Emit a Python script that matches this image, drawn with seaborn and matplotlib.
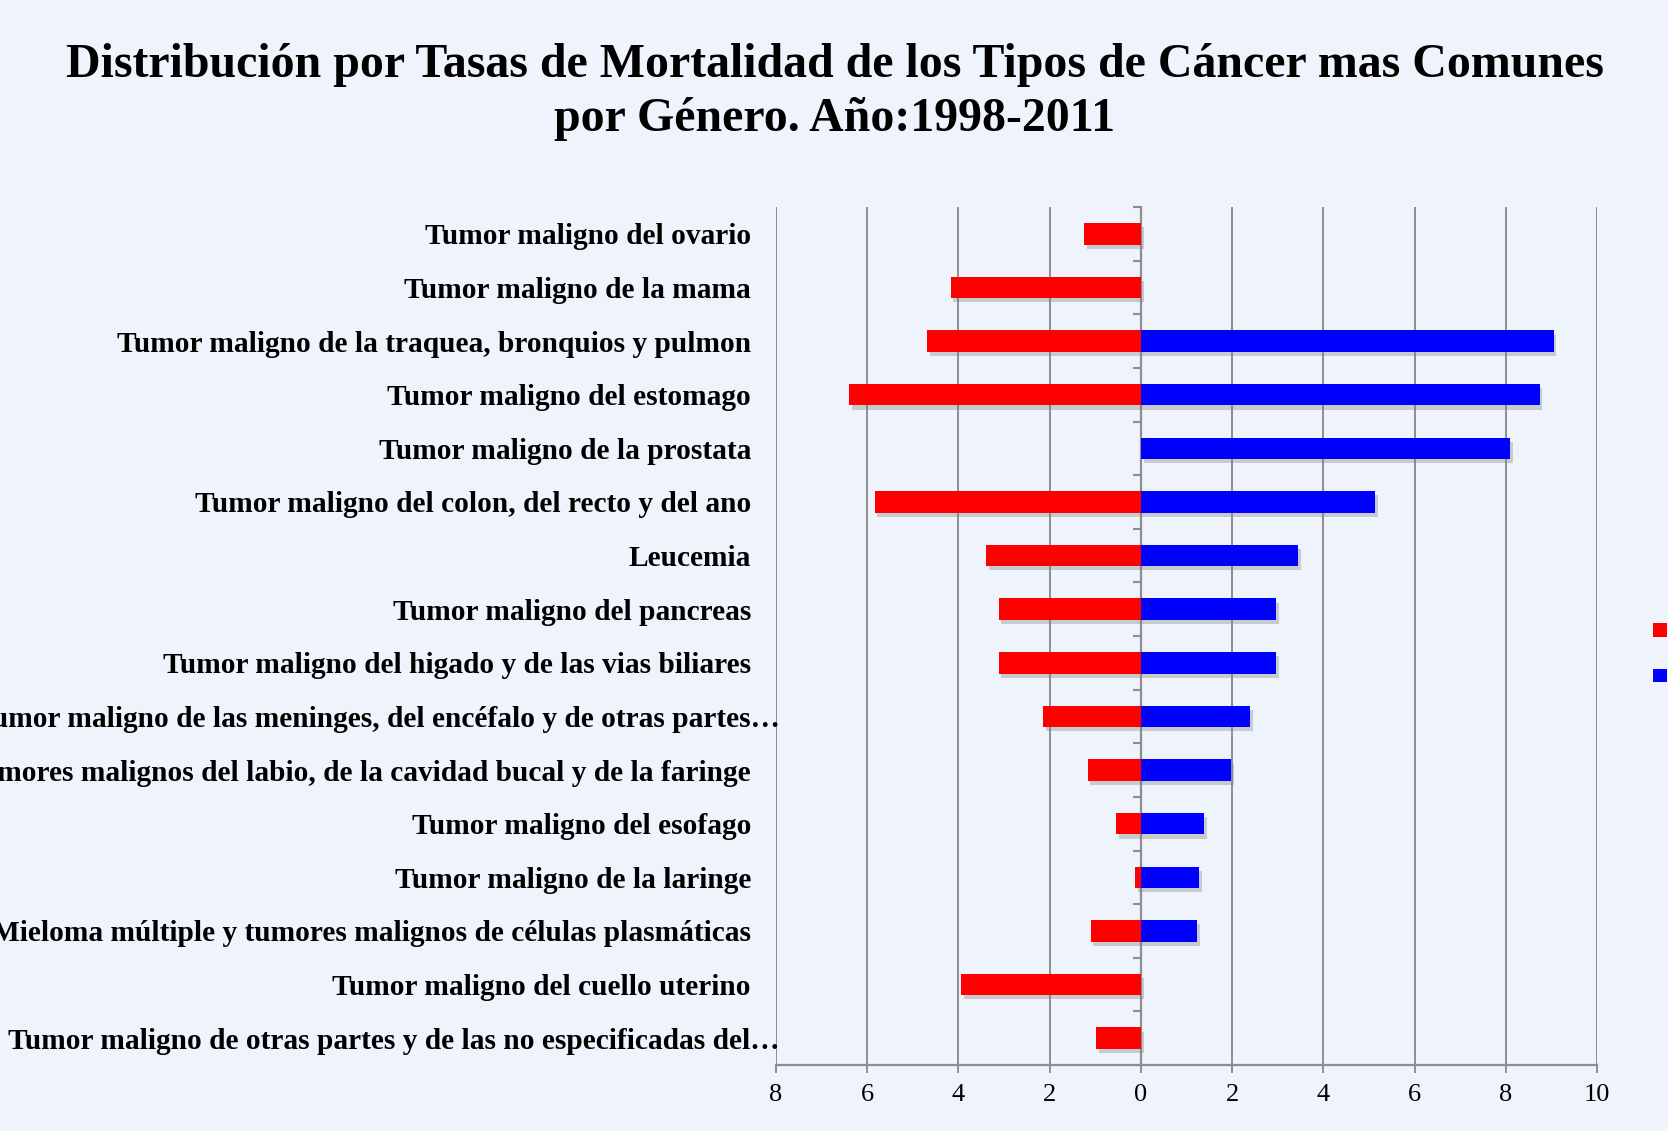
import numpy as np
import pandas as pd
import matplotlib
matplotlib.use("Agg")
import matplotlib.pyplot as plt
import matplotlib.patheffects as pe
import matplotlib.transforms as mtransforms
from matplotlib.patches import Patch
from matplotlib.ticker import FuncFormatter, FixedLocator
import seaborn as sns

categorias = [
    "Tumor maligno del ovario",
    "Tumor maligno de la mama",
    "Tumor maligno de la traquea, bronquios y pulmon",
    "Tumor maligno del estomago",
    "Tumor maligno de la prostata",
    "Tumor maligno del colon, del recto y del ano",
    "Leucemia",
    "Tumor maligno del pancreas",
    "Tumor maligno del higado y de las vias biliares",
    "Tumor maligno de las meninges, del encéfalo y de otras partes…",
    "Tumores malignos del labio, de la cavidad bucal y de la faringe",
    "Tumor maligno del esofago",
    "Tumor maligno de la laringe",
    "Mieloma múltiple y tumores malignos de células plasmáticas",
    "Tumor maligno del cuello uterino",
    "Tumor maligno de otras partes y de las no especificadas del…",
]
mujeres = [1.25, 4.17, 4.69, 6.39, np.nan, 5.84, 3.40, 3.12, 3.12, 2.14, 1.17, 0.54, 0.13, 1.10, 3.95, 0.98]
hombres = [np.nan, np.nan, 9.05, 8.74, 8.10, 5.14, 3.45, 2.96, 2.96, 2.40, 1.97, 1.39, 1.28, 1.24, np.nan, np.nan]
series = ["Mujeres", "Hombres"]
colores = {"Mujeres": "#FF0000", "Hombres": "#0000FF"}
xticks = [-8, -6, -4, -2, 0, 2, 4, 6, 8, 10]

rows = []
for c, m, h in zip(categorias, mujeres, hombres):
    if not np.isnan(m):
        rows.append({"cat": c, "sexo": "Mujeres", "valor": -m})
    if not np.isnan(h):
        rows.append({"cat": c, "sexo": "Hombres", "valor": h})
df = pd.DataFrame(rows)

bg = "#EFF3FB"
grid_c = "#8E8E8E"
plt.rcParams["font.family"] = ["Liberation Serif", "DejaVu Serif"]

fig = plt.figure(figsize=(16.68, 11.31), dpi=100, facecolor=bg)
ax = fig.add_axes([776/1668, 1-1065/1131, (1597-776)/1668, (1065-207)/1131])
ax.set_facecolor(bg)

sns.barplot(data=df, y="cat", x="valor", hue="sexo", order=categorias,
            hue_order=series, palette=colores, dodge=False, width=0.4,
            orient="h", ax=ax, legend=False, saturation=1, zorder=3)
for p in ax.patches:
    p.set_path_effects([pe.SimplePatchShadow(offset=(2, -3), shadow_rgbFace="#7f7f7f", alpha=0.35), pe.Normal()])
    p.set_edgecolor("none")

ax.set_xlim(-8, 10)
ax.set_ylim(len(categorias) - 0.5, -0.5)
ax.xaxis.set_major_locator(FixedLocator(xticks))
ax.xaxis.set_major_formatter(FuncFormatter(lambda v, pos: f"{abs(v):g}"))
ax.grid(axis="x", color=grid_c, linewidth=1.4, zorder=0)
ax.grid(axis="y", visible=False)
ax.set_axisbelow(True)
for s in ["top", "right", "left"]:
    ax.spines[s].set_visible(False)
ax.spines["bottom"].set_color(grid_c)
ax.spines["bottom"].set_linewidth(1.6)
ax.tick_params(axis="x", length=6, width=1.4, color=grid_c, labelsize=19, pad=8, labelcolor="black")
ax.tick_params(axis="y", length=0, pad=18, labelsize=21.2)
shift = mtransforms.ScaledTranslation(29/100, 0, fig.dpi_scale_trans)
for t in ax.get_yticklabels():
    t.set_fontweight("bold")
    if t.get_text().endswith("…"):
        t.set_transform(t.get_transform() + shift)
ax.set_xlabel("")
ax.set_ylabel("")

# zero axis with boundary ticks
sec = ax.secondary_yaxis(8/18)
sec.set_yticks([i - 0.5 for i in range(len(categorias) + 1)])
sec.set_yticklabels([])
sec.tick_params(axis="y", length=6, width=1.5, color=grid_c, direction="out")
sec.spines["left"].set_color(grid_c)
sec.spines["left"].set_linewidth(1.6)

handles = [Patch(facecolor=colores[s], edgecolor="none") for s in series]
fig.legend(handles, series, loc="upper left", bbox_to_anchor=(1653/1668, 1-623/1131),
           frameon=False, fontsize=14, handlelength=0.72, handleheight=0.72,
           labelspacing=1.43, borderpad=0, borderaxespad=0, handletextpad=0.6)

fig.text(0.5006, 1-92/1131,
         "Distribución por Tasas de Mortalidad de los Tipos de Cáncer mas Comunes\npor Género. Año:1998-2011",
         ha="center", va="center", fontsize=34.5, fontweight="bold", linespacing=1.32)

fig.savefig("out.png", dpi=100, facecolor=bg)
